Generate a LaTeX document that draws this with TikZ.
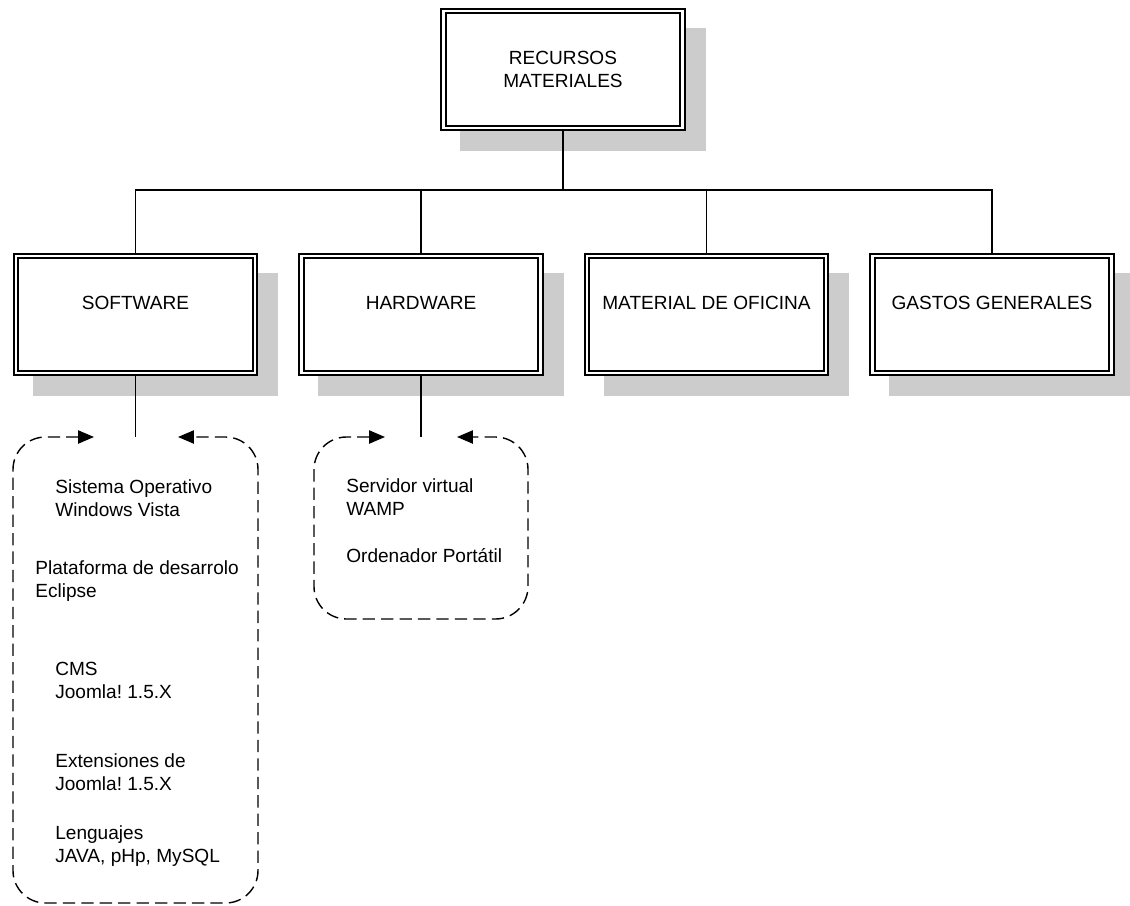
\documentclass[tikz,border=0pt]{standalone}
\usepackage{fontspec}
\setmainfont{Liberation Sans}
\frenchspacing
\usetikzlibrary{positioning, arrows.meta, shadows}
\tikzset{
  unitbox/.style={draw=black, line width=1pt, double=white, double distance=1.5pt,
    fill=white, minimum width=4.78cm, minimum height=2.34cm, inner sep=0pt,
    drop shadow={shadow xshift=0.4cm, shadow yshift=-0.4cm, fill=black!20,
      draw=black!20, line width=3.5pt, opacity=1}},
  boxlabel/.style={anchor=base, align=center, inner sep=0pt},
  itemlabel/.style={anchor=base west, align=left, inner sep=0pt},
  link/.style={draw=black, line width=0.8pt},
  dashloop/.style={draw=black, line width=0.8pt, dash pattern=on 7pt off 3.5pt,
    rounded corners=0.65cm,
    arrows={Triangle[length=9pt,width=7.5pt]-Triangle[length=9pt,width=7.5pt]}},
}

\begin{document}
\begin{tikzpicture}[x=0.02cm, y=-0.02cm, font=\fontsize{10.85}{13}\selectfont]
\useasboundingbox (0,0) rectangle (1130,906);
\def\dx{285.5}
\def\rowy{314.5}

% top of the tree (multi-line labels sit on their last baseline)
\node[unitbox] (root) at (563,69.5) {};
\node[boxlabel] (root-t) at (563,87) {RECURSOS\\MATERIALES};

% the four branches, one box each
\foreach \name/\txt [count=\i from 0] in
    {soft/SOFTWARE, hard/HARDWARE, ofic/MATERIAL DE OFICINA, gast/GASTOS GENERALES} {
  \node[unitbox] (\name) at (135.5+\i*\dx,\rowy) {};
  \node[boxlabel] (\name-t) at (135.5+\i*\dx,309) {\txt};
}

\coordinate (bus) at (563,190);
\draw[link] (root) -- (bus);
\draw[link] (soft.north) |- (bus) -| (gast.north);
\draw[link] (hard.north) -- (hard.north |- bus);
\draw[link] (ofic.north) -- (ofic.north |- bus);

% tails under software and hardware
\coordinate (soft-tail) at (135.5,437);
\coordinate (hard-tail) at (421,437);
\draw[link] (soft) -- (soft-tail);
\draw[link] (hard) -- (hard-tail);

\draw[dashloop] (94,437) -- (13,437) -- (13,903) -- (258,903) -- (258,437) -- (178,437);
\draw[dashloop] (385,437) -- (314,437) -- (314,619) -- (528,619) -- (528,437) -- (457,437);

% software items
\node[itemlabel] (so) at (55,516) {Sistema Operativo\\Windows Vista};
\node[itemlabel] (ide) at (35,597) {Plataforma de desarrolo\\Eclipse};
\node[itemlabel] (cms) at (55,698) {CMS\\Joomla! 1.5.X};
\node[itemlabel] (ext) at (55,790) {Extensiones de\\Joomla! 1.5.X};
\node[itemlabel] (lang) at (55,862) {Lenguajes\\JAVA, pHp, MySQL};

% hardware items
\node[itemlabel] (wamp) at (346,515) {Servidor virtual\\WAMP};
\node[itemlabel] (pc) at (346,562) {Ordenador Portátil};
\end{tikzpicture}
\end{document}
